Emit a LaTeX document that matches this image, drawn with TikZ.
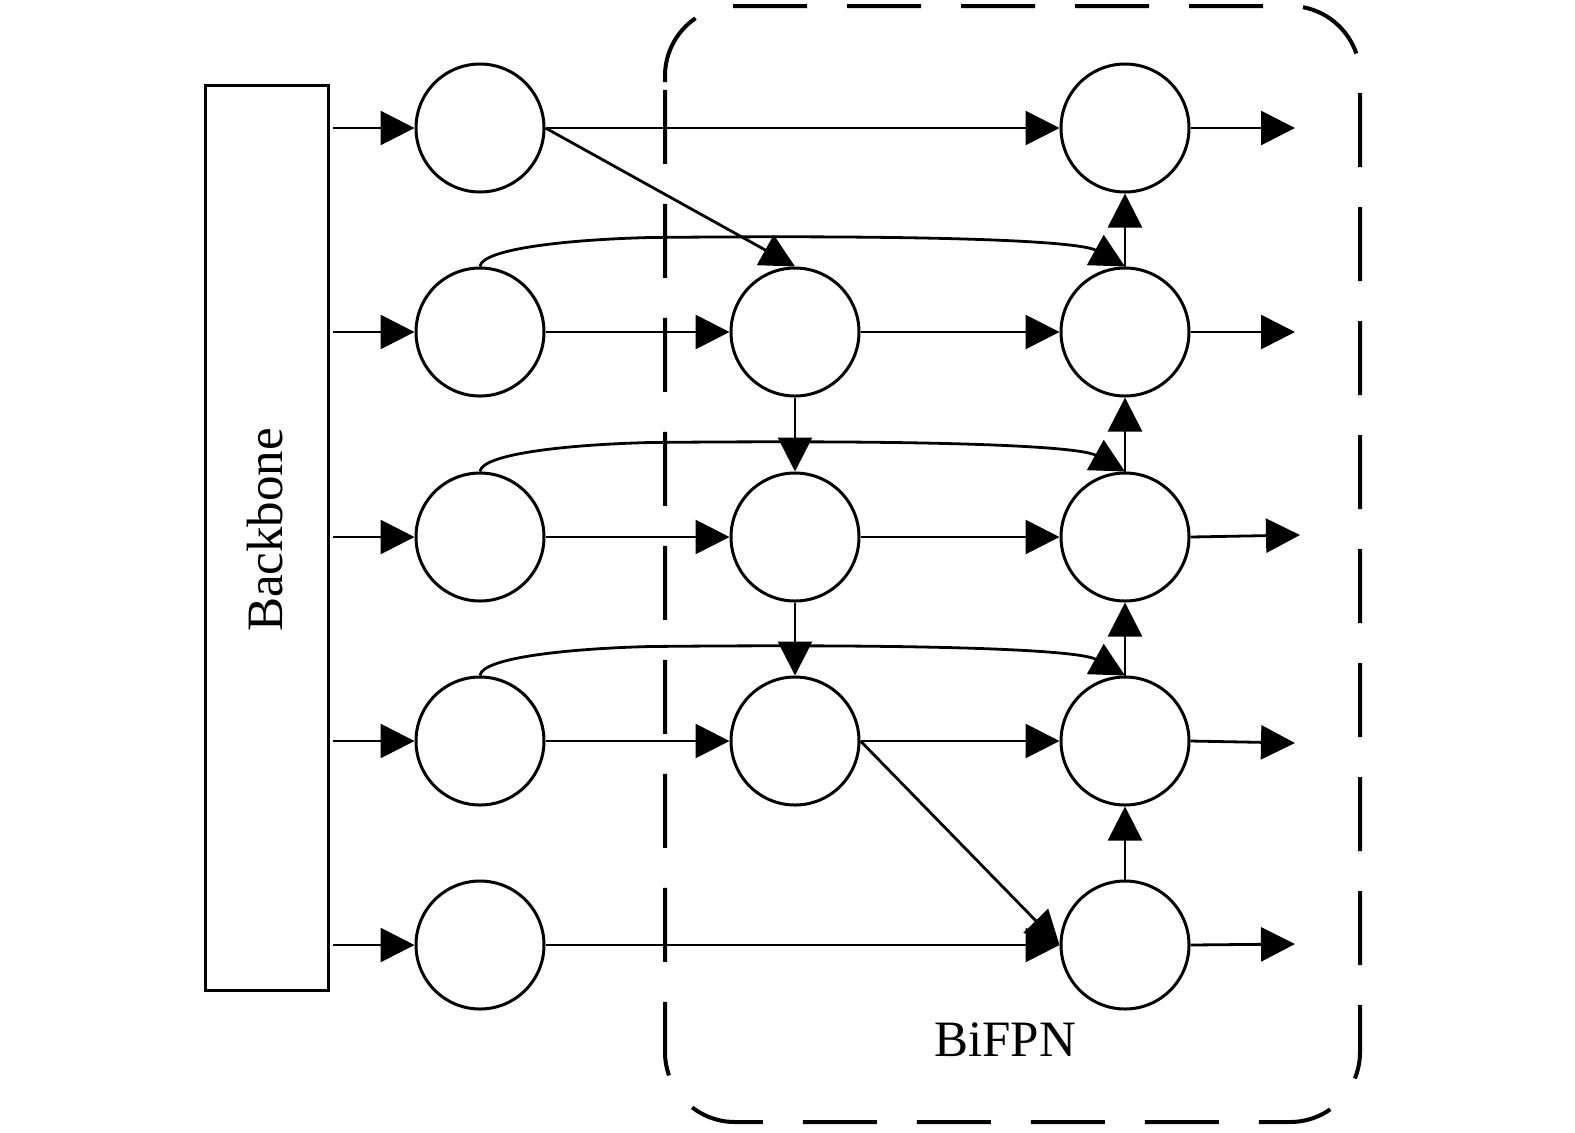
\documentclass[tikz,border=0pt]{standalone}
\usepackage{fontspec}
\setmainfont{Liberation Serif}
\usetikzlibrary{arrows.meta}
\begin{document}
\begin{tikzpicture}[x=0.5pt,y=-0.5pt,
  nd/.style={circle,draw,line width=1.5pt,minimum size=64pt,inner sep=0pt},
  ar/.style={line width=1.4pt,-{Triangle[length=17pt,width=17pt]}},
  bbox/.style={draw,line width=1.5pt},
  fpnbox/.style={draw,line width=2pt,dash pattern=on 37pt off 20pt,rounded corners=35pt},
  lbl/.style={font=\fontsize{25.5pt}{30pt}\selectfont,inner sep=0pt}]
\useasboundingbox (0,0) rectangle (1575,1132);
% BiFPN box
\draw[fpnbox] (665,152) -- (665,6) -- (1360,6) -- (1360,1122) -- (665,1122) -- cycle;
\node[lbl] (bifpn) at (1005,1040) {BiFPN};
% backbone
\node[bbox,minimum width=61.5pt,minimum height=452.5pt,inner sep=0pt] (bb) at (266.5,537.5) {};
\node[lbl,rotate=90] (bbl) at (265,530) {Backbone};
% nodes
\foreach \i/\y in {1/128,2/332,3/537,4/741,5/945}{
  \node[nd] (a\i) at (480,\y) {};
  \node[nd] (c\i) at (1125,\y) {};
  \coordinate (in\i) at (333,\y);
}
\foreach \i/\y in {2/332,3/537,4/741}{
  \node[nd] (b\i) at (795,\y) {};
}
\coordinate (o1) at (1295,128);
\coordinate (o2) at (1295,332);
\coordinate (o3) at (1300,535);
\coordinate (o4) at (1295,743);
\coordinate (o5) at (1295,944);
% inputs and outputs
\foreach \i in {1,...,5}{
  \draw[ar] (in\i) -- (a\i.west);
  \draw[ar] (c\i.east) -- (o\i);
}
% horizontals
\draw[ar] (a1.east) -- (c1.west);
\draw[ar] (a5.east) -- (c5.west);
\foreach \i in {2,3,4}{
  \draw[ar] (a\i.east) -- (b\i.west);
  \draw[ar] (b\i.east) -- (c\i.west);
}
% diagonals
\draw[ar] (a1.east) -- (b2.north);
\draw[ar] (b4.east) -- (c5.west);
% verticals
\draw[ar] (b2.south) -- (b3.north);
\draw[ar] (b3.south) -- (b4.north);
\draw[ar] (c5.north) -- (c4.south);
\draw[ar] (c4.north) -- (c3.south);
\draw[ar] (c3.north) -- (c2.south);
\draw[ar] (c2.north) -- (c1.south);
% skip curves
\foreach \i in {2,3,4}{
  \draw[ar] (a\i.north) .. controls ++(2,-18) and ++(-80,2) .. ++(170,-29)
     .. controls ++(300,-3) and ++(-45,-25) .. (c\i.north);
}
\end{tikzpicture}
\end{document}
